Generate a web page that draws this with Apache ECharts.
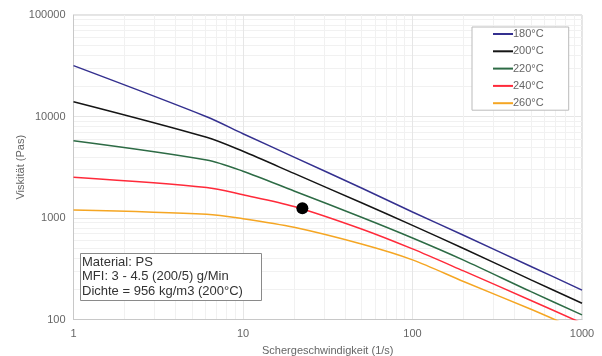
<!DOCTYPE html>
<html>
<head>
<meta charset="utf-8">
<script src="https://cdn.jsdelivr.net/npm/echarts@6/dist/echarts.min.js"></script>
<style>
	body { margin: 0; background: #fff; }
	#chart { width: 602px; height: 356px; }
</style>
</head>
<body>
<div id="chart"></div>
<script>
// shear rate (1/s)
let shearRates = [1, 6.1, 10, 20, 50, 100, 200, 500, 1000];

// viscosity (Pas) per temperature
let visc180 = [31700, 9950, 6770, 3980, 1976, 1146, 676, 333, 195];
let visc200 = [14000, 6240, 4540, 2750, 1412, 847, 500, 246, 144.5];
let visc220 = [5780, 3730, 2890, 1845, 1018, 636, 385, 188, 111];
let visc240 = [2520, 2000, 1694, 1300, 780, 496, 301, 154, 92];
let visc260 = [1200, 1090, 985, 810, 554, 387, 237, 126, 76];

let seriesNames = ["180°C", "200°C", "220°C", "240°C", "260°C"];
let seriesColours = ["#34308f", "#151515", "#2d6b45", "#ff2a3a", "#f5a623"];

// operating point on the 240°C curve
let markedPoint = [22.4, 1250];

let infoText = ["Material: PS", "MFI: 3 - 4.5 (200/5) g/Min", "Dichte = 956 kg/m3 (200°C)"];

function toPairs(xs, ys)
{
	let out = [];
	for (let i = 0; i < xs.length; i++)
	{
		out.push([xs[i], ys[i]]);
	}
	return out;
}

let allValues = [visc180, visc200, visc220, visc240, visc260];

let series = [];
for (let [i, values] of allValues.entries())
{
	series.push({
		name: seriesNames[i],
		type: 'line',
		data: toPairs(shearRates, values),
		showSymbol: false,
		symbol: 'none',
		smooth: 0.3,
		clip: true,
		lineStyle: { color: seriesColours[i], width: 1.5 },
		itemStyle: { color: seriesColours[i] }
	});
}
series.push({
	name: 'point',
	type: 'scatter',
	data: [markedPoint],
	symbolSize: 12,
	itemStyle: { color: '#000', opacity: 1 },
	z: 5
});

let labelFont = { color: '#666', fontSize: 11, fontFamily: 'Liberation Sans' };

let myChart = echarts.init(document.getElementById('chart'));

let option = {
	animation: false,
	title: {
		text: infoText.join('\n'),
		left: 80,
		top: 253,
		padding: [2, 19, 2, 2],
		borderColor: '#8a8a8a',
		borderWidth: 1,
		backgroundColor: '#fff',
		textStyle: {
			color: '#333',
			fontSize: 13,
			fontWeight: 'normal',
			fontFamily: 'Liberation Sans',
			lineHeight: 14.5
		}
	},
	legend: {
		data: seriesNames,
		orient: 'vertical',
		left: 472,
		top: 27,
		icon: 'rect',
		itemWidth: 20,
		itemHeight: 2,
		itemGap: 5.3,
		padding: [1, 25, 1, 21],
		borderColor: '#bbb',
		borderWidth: 1,
		backgroundColor: '#fff',
		textStyle: { color: '#666', fontSize: 11, fontFamily: 'Liberation Sans', lineHeight: 12, padding: [0, 0, 0, -5] }
	},
	grid: {
		left: 73.5,
		right: 20,
		top: 15,
		bottom: 36.5,
		outerBoundsMode: 'none',
		containLabel: false,
		show: true,
		borderColor: '#c8c8c8',
		borderWidth: 1
	},
	xAxis: {
		type: 'log',
		logBase: 10,
		min: 1,
		max: 1000,
		name: 'Schergeschwindigkeit (1/s)',
		nameLocation: 'middle',
		nameGap: 26,
		nameMoveOverlap: false,
		nameTextStyle: labelFont,
		axisLine: { lineStyle: { color: '#c8c8c8' } },
		axisTick: { show: false },
		axisLabel: Object.assign({ margin: 9, formatter: v => String(v) }, labelFont),
		splitLine: { lineStyle: { color: '#e6e6e6' } },
		minorTick: { show: false, splitNumber: 9 },
		minorSplitLine: { show: true, lineStyle: { color: '#f1f1f1' } }
	},
	yAxis: {
		type: 'log',
		logBase: 10,
		min: 100,
		max: 100000,
		name: 'Viskität (Pas)',
		nameLocation: 'middle',
		nameGap: 47,
		nameMoveOverlap: false,
		nameTextStyle: labelFont,
		axisLine: { show: true, lineStyle: { color: '#c8c8c8' } },
		axisTick: { show: false },
		axisLabel: Object.assign({ margin: 8, formatter: v => String(v) }, labelFont),
		splitLine: { lineStyle: { color: '#e6e6e6' } },
		minorTick: { show: false, splitNumber: 9 },
		minorSplitLine: { show: true, lineStyle: { color: '#f1f1f1' } }
	},
	series: series
};

myChart.setOption(option);
</script>
</body>
</html>
